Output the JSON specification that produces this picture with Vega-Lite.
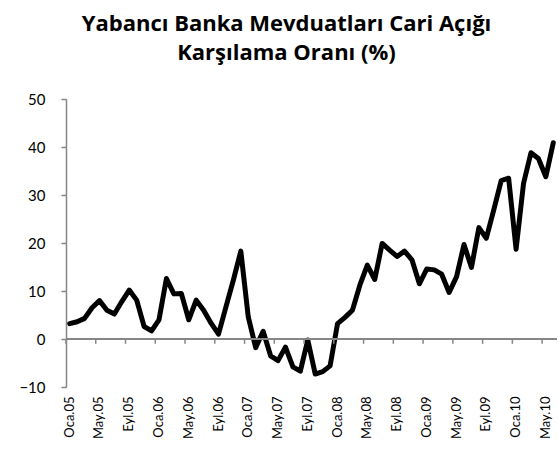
{
  "$schema": "https://vega.github.io/schema/vega-lite/v6.json",
  "width": 491,
  "height": 288,
  "autosize": {"type": "none"},
  "padding": {"left": 66, "top": 99, "right": 1, "bottom": 73},
  "background": "white",
  "title": {
    "text": ["Yabancı Banka Mevduatları Cari Açığı", "Karşılama Oranı (%)"],
    "font": "Open Sans",
    "fontSize": 22,
    "fontWeight": "bold",
    "color": "#000000",
    "lineHeight": 29,
    "anchor": "middle",
    "dx": -25,
    "offset": 27
  },
  "config": {
    "view": {"stroke": null},
    "axis": {"labelFont": "Lato", "labelColor": "#000000", "grid": false}
  },
  "data": {
    "values": [
      {"ay": "Oca.05", "oran": 3.2}, {"ay": "Şub.05", "oran": 3.6}, {"ay": "Mar.05", "oran": 4.3}, {"ay": "Nis.05", "oran": 6.5},
      {"ay": "May.05", "oran": 8.0}, {"ay": "Haz.05", "oran": 6.0}, {"ay": "Tem.05", "oran": 5.2}, {"ay": "Ağu.05", "oran": 7.8},
      {"ay": "Eyl.05", "oran": 10.2}, {"ay": "Eki.05", "oran": 8.1}, {"ay": "Kas.05", "oran": 2.6}, {"ay": "Ara.05", "oran": 1.7},
      {"ay": "Oca.06", "oran": 4.0}, {"ay": "Şub.06", "oran": 12.6}, {"ay": "Mar.06", "oran": 9.4}, {"ay": "Nis.06", "oran": 9.5},
      {"ay": "May.06", "oran": 4.0}, {"ay": "Haz.06", "oran": 8.1}, {"ay": "Tem.06", "oran": 6.0}, {"ay": "Ağu.06", "oran": 3.3},
      {"ay": "Eyl.06", "oran": 1.0}, {"ay": "Eki.06", "oran": 6.7}, {"ay": "Kas.06", "oran": 12.3}, {"ay": "Ara.06", "oran": 18.3},
      {"ay": "Oca.07", "oran": 4.6}, {"ay": "Şub.07", "oran": -1.8}, {"ay": "Mar.07", "oran": 1.6}, {"ay": "Nis.07", "oran": -3.5},
      {"ay": "May.07", "oran": -4.5}, {"ay": "Haz.07", "oran": -1.7}, {"ay": "Tem.07", "oran": -5.8}, {"ay": "Ağu.07", "oran": -6.7},
      {"ay": "Eyl.07", "oran": -0.2}, {"ay": "Eki.07", "oran": -7.3}, {"ay": "Kas.07", "oran": -6.8}, {"ay": "Ara.07", "oran": -5.6},
      {"ay": "Oca.08", "oran": 3.2}, {"ay": "Şub.08", "oran": 4.5}, {"ay": "Mar.08", "oran": 6.0}, {"ay": "Nis.08", "oran": 11.2},
      {"ay": "May.08", "oran": 15.4}, {"ay": "Haz.08", "oran": 12.4}, {"ay": "Tem.08", "oran": 19.9}, {"ay": "Ağu.08", "oran": 18.5},
      {"ay": "Eyl.08", "oran": 17.2}, {"ay": "Eki.08", "oran": 18.3}, {"ay": "Kas.08", "oran": 16.5}, {"ay": "Ara.08", "oran": 11.5},
      {"ay": "Oca.09", "oran": 14.6}, {"ay": "Şub.09", "oran": 14.4}, {"ay": "Mar.09", "oran": 13.5}, {"ay": "Nis.09", "oran": 9.7},
      {"ay": "May.09", "oran": 13.0}, {"ay": "Haz.09", "oran": 19.7}, {"ay": "Tem.09", "oran": 14.9}, {"ay": "Ağu.09", "oran": 23.2},
      {"ay": "Eyl.09", "oran": 21.0}, {"ay": "Eki.09", "oran": 26.9}, {"ay": "Kas.09", "oran": 33.0}, {"ay": "Ara.09", "oran": 33.5},
      {"ay": "Oca.10", "oran": 18.7}, {"ay": "Şub.10", "oran": 32.4}, {"ay": "Mar.10", "oran": 38.8}, {"ay": "Nis.10", "oran": 37.6},
      {"ay": "May.10", "oran": 33.8}, {"ay": "Haz.10", "oran": 40.9}
    ]
  },
  "layer": [
    {
      "mark": {"type": "line", "color": "#000000", "strokeWidth": 5, "strokeJoin": "round", "strokeCap": "round"},
      "encoding": {
        "x": {
          "field": "ay", "type": "ordinal", "sort": null, "bandPosition": 0.5,
          "scale": {"type": "band", "paddingInner": 0, "paddingOuter": 0},
          "axis": {
            "title": null,
            "values": ["Oca.05","May.05","Eyl.05","Oca.06","May.06","Eyl.06","Oca.07","May.07","Eyl.07","Oca.08","May.08","Eyl.08","Oca.09","May.09","Eyl.09","Oca.10","May.10"],
            "labelAngle": -90,
            "labelFontSize": 13,
            "labelPadding": 9,
            "ticks": false,
            "domain": false
          }
        },
        "y": {
          "field": "oran", "type": "quantitative",
          "scale": {"domain": [-10, 50], "nice": false, "zero": false},
          "axis": {
            "title": null,
            "values": [-10, 0, 10, 20, 30, 40, 50],
            "labelFontSize": 15,
            "labelPadding": 16,
            "tickSize": 5,
            "tickColor": "#868686",
            "tickWidth": 1.5,
            "domainColor": "#868686",
            "domainWidth": 1.5
          }
        }
      }
    },
    {
      "mark": {"type": "rule", "color": "#868686", "strokeWidth": 1.5},
      "encoding": {"y": {"datum": 0}}
    },
    {
      "mark": {"type": "rule", "color": "#868686", "strokeWidth": 1.5},
      "encoding": {
        "x": {"field": "ay", "type": "ordinal", "sort": null, "bandPosition": 0, "scale": {"type": "band", "paddingInner": 0, "paddingOuter": 0}},
        "y": {"datum": 0},
        "y2": {"datum": -1},
        "strokeOpacity": {
          "condition": {"test": "test(/^(Oca|May|Eyl)/, datum.ay)", "value": 1},
          "value": 0
        }
      }
    }
  ]
}
